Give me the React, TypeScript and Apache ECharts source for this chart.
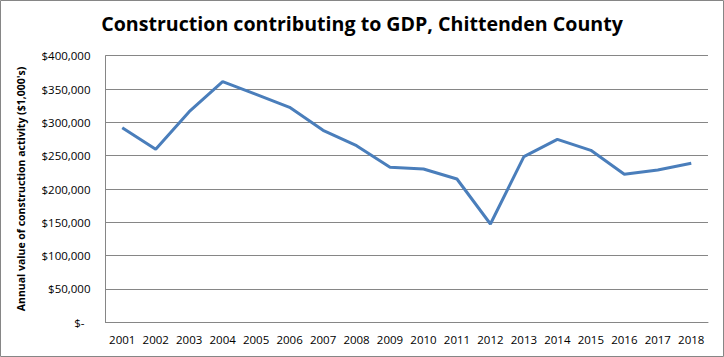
import React, { useEffect, useRef } from "react";
import * as echarts from "echarts";

const years = ["2001","2002","2003","2004","2005","2006","2007","2008","2009","2010","2011","2012","2013","2014","2015","2016","2017","2018"];
const values = [292000,259500,316000,361000,342000,322500,288000,265000,232500,230000,215000,147500,248500,274500,258000,222000,228500,238500];
const yTicks = { min: 0, max: 400000, interval: 50000 };

const fmt = (v: number) => {
  if (v === 0) return "{z|$-}";
  return "$" + v.toLocaleString("en-US");
};

export default function App() {
  const ref = useRef<HTMLDivElement>(null);
  useEffect(() => {
    document.body.style.margin = "0";
    const chart = echarts.init(ref.current!, null, { renderer: "svg" });
    const font = "Open Sans, Liberation Sans, sans-serif";
    chart.setOption({
      animation: false,
      backgroundColor: "#fff",
      title: {
        text: "Construction contributing to GDP, Chittenden County",
        left: "center",
        top: 8,
        textStyle: { fontFamily: font, fontSize: 19.6, fontWeight: "bold", color: "#000" },
      },
      graphic: [
        { type: "rect", shape: { x: 0.5, y: 0.5, width: 723, height: 356 }, style: { fill: "none", stroke: "#868686", lineWidth: 1 }, silent: true },
      ],
      grid: { left: 105.5, right: 16, top: 55.7, bottom: 34.7 },
      xAxis: {
        type: "category",
        data: years,
        boundaryGap: true,
        axisLine: { lineStyle: { color: "#868686", width: 1 } },
        axisTick: { show: false },
        axisLabel: { color: "#000", fontFamily: font, fontSize: 11.5, margin: 11, interval: 0 },
      },
      yAxis: {
        type: "value",
        min: yTicks.min,
        max: yTicks.max,
        interval: yTicks.interval,
        name: "Annual value of construction activity ($1,000's)",
        nameLocation: "middle",
        nameGap: 79,
        nameTextStyle: { fontFamily: font, fontSize: 10.5, fontWeight: "bold", color: "#000" },
        axisLine: { show: true, lineStyle: { color: "#868686", width: 1 } },
        axisTick: { show: false },
        splitLine: { lineStyle: { color: "#868686", width: 1 } },
        axisLabel: {
          color: "#000",
          fontFamily: font,
          fontSize: 11.5,
          margin: 15,
          formatter: fmt,
          rich: { z: { padding: [0, 6, 0, 0], fontFamily: font, fontSize: 11.5, color: "#000" } },
        },
      },
      series: [
        {
          type: "line",
          data: values,
          symbol: "none",
          lineStyle: { color: "#4a7ebb", width: 3 },
        },
      ],
    });
    return () => chart.dispose();
  }, []);
  return <div ref={ref} style={{ position: "fixed", left: 0, top: 0, width: 724, height: 357 }} />;
}
